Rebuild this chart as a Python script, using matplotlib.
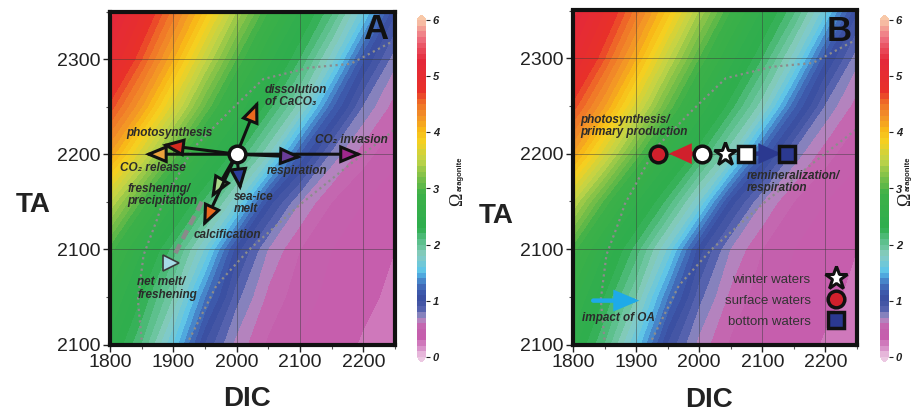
import numpy as np
import matplotlib
matplotlib.use("Agg")
import matplotlib.pyplot as plt
from matplotlib.colors import LinearSegmentedColormap
from matplotlib.lines import Line2D
from matplotlib.ticker import MultipleLocator

plt.rcParams['font.family'] = ['Liberation Sans', 'DejaVu Sans']

# ---------------- data ----------------
dic_grid = [1800, 1850, 1900, 1950, 2000, 2050, 2100, 2150, 2200, 2250]
ta_grid = [2000, 2050, 2100, 2150, 2200, 2250, 2300, 2350]
omega_ta2000 = [2.44, 2.09, 1.58, 0.98, 0.66, 0.48, 0.39, 0.34, 0.29, 0.27]
omega_ta2050 = [2.64, 2.29, 1.89, 1.30, 0.83, 0.57, 0.44, 0.37, 0.32, 0.28]
omega_ta2100 = [2.95, 2.50, 2.15, 1.68, 1.04, 0.69, 0.50, 0.40, 0.35, 0.30]
omega_ta2150 = [3.50, 2.97, 2.51, 2.16, 1.70, 1.05, 0.70, 0.50, 0.40, 0.35]
omega_ta2200 = [4.18, 3.62, 3.06, 2.57, 2.22, 1.80, 1.18, 0.76, 0.54, 0.42]
omega_ta2250 = [4.66, 4.20, 3.64, 3.08, 2.59, 2.24, 1.83, 1.22, 0.78, 0.55]
omega_ta2300 = [5.05, 4.60, 4.10, 3.52, 2.99, 2.54, 2.19, 1.74, 1.11, 0.73]
omega_ta2350 = [5.35, 4.90, 4.45, 3.96, 3.39, 2.89, 2.47, 2.12, 1.63, 1.01]

x_ticks = [1800, 1900, 2000, 2100, 2200]
x_tick_labels = ['1800', '1900', '2000', '2100', '2200']
y_ticks = [2000, 2100, 2200, 2300]
y_tick_labels = ['2100', '2100', '2200', '2300']
cbar_ticks = [0, 1, 2, 3, 4, 5, 6]

upper_iso_dic = [1850, 1844, 1853, 1874, 1882, 1931, 1990, 2042, 2115, 2180, 2250]
upper_iso_ta = [2005, 2047, 2094, 2131, 2147, 2206, 2246, 2279, 2291, 2295, 2320]
lower_iso_dic = [1925, 1968, 2020, 2100, 2180, 2250]
lower_iso_ta = [2005, 2062, 2100, 2147, 2190, 2226]

# panel A: process vectors from the initial state
a_origin_dic = 2000
a_origin_ta = 2200
a_vec_names = ['CO2 invasion', 'respiration', 'CO2 release', 'photosynthesis',
               'dissolution', 'sea-ice melt', 'freshening', 'calcification']
a_vec_dic = [2198, 2103, 1855, 1882, 2034, 2006, 1960, 1947]
a_vec_ta = [2200, 2197, 2200, 2210, 2256, 2162, 2154, 2124]
a_vec_colors = ['#a0288c', '#6a3d9a', '#eba23c', '#d42a20',
                '#ea6a1e', '#2b3f9b', '#a8d888', '#ea6a1e']
net_melt_dic = [1945, 1901]
net_melt_ta = [2150, 2093]
net_melt_marker_dic = 1897
net_melt_marker_ta = 2086

# panel B: water-mass states
b_state_dic = [1935, 2004, 2041, 2074, 2139]
b_state_ta = [2200, 2200, 2200, 2200, 2200]
b_red_arrow_dic = [1998, 1952]
b_blue_arrow_dic = [2080, 2130]
oa_arrow_dic = [1832, 1905]
oa_arrow_ta = [2046, 2046]

# ---------------- colormap ----------------
stops = [(0.0, '#ecc8e2'), (0.15, '#d890c8'), (0.35, '#c458aa'), (0.55, '#c468b0'),
         (0.7, '#a898c8'), (0.82, '#5a66b0'), (1.0, '#3a4ea0'), (1.2, '#3e5cae'),
         (1.38, '#4a90d0'), (1.5, '#58c4ee'), (1.8, '#88ccc0'), (2.05, '#5cc08c'),
         (2.3, '#2eae4e'), (2.9, '#3cb048'), (3.2, '#7cc048'), (3.5, '#c0d448'),
         (3.85, '#f5d020'), (4.05, '#f8b818'), (4.3, '#f29028'), (4.55, '#ee6a28'),
         (4.75, '#e8302a'), (5.3, '#e4283a'), (5.7, '#ee7080'), (6.0, '#f8c8a8')]
cmap = LinearSegmentedColormap.from_list('omega', [(v / 6.0, c) for v, c in stops])
cmap.set_under('#ecc8e2')
cmap.set_over('#f8c8a8')

omega = np.array([omega_ta2000, omega_ta2050, omega_ta2100, omega_ta2150,
                  omega_ta2200, omega_ta2250, omega_ta2300, omega_ta2350])
levels = np.arange(0, 6.01, 0.1)

fig = plt.figure(figsize=(9.16, 4.19), dpi=100)
ax_a = fig.add_axes([110 / 916, 74.5 / 419, 285 / 916, 333 / 419])
ax_b = fig.add_axes([573 / 916, 74.5 / 419, 284 / 916, 334 / 419])
cax_a = fig.add_axes([417 / 916, 57 / 419, 9 / 916, 347 / 419])
cax_b = fig.add_axes([880 / 916, 57 / 419, 9 / 916, 347 / 419])

txt_col = '#2b2b2b'


def arrow(ax, x0, y0, x1, y1, fc, ec, lw, hl, hw, z):
    ax.annotate('', xy=(x1, y1), xytext=(x0, y0),
                arrowprops=dict(arrowstyle=f'-|>,head_length={hl},head_width={hw}',
                                fc=fc, ec=ec, lw=lw, shrinkA=0, shrinkB=0,
                                mutation_scale=10, joinstyle='miter'),
                zorder=z)


for ax, cax, ta_y in ((ax_a, cax_a, 0.42), (ax_b, cax_b, 0.386)):
    cf = ax.contourf(dic_grid, ta_grid, omega, levels=levels, cmap=cmap,
                     vmin=0, vmax=6, extend='both', zorder=0)
    ax.plot(upper_iso_dic, upper_iso_ta, color='#8c8c8c', lw=1.6,
            ls=(0, (1, 1.6)), zorder=2)
    ax.plot(lower_iso_dic, lower_iso_ta, color='#8c8c8c', lw=1.6,
            ls=(0, (1, 1.6)), zorder=2)
    ax.set_xlim(1800, 2250)
    ax.set_ylim(2000, 2350)
    ax.set_xticks(x_ticks)
    ax.set_xticklabels(x_tick_labels)
    ax.set_yticks(y_ticks)
    ax.set_yticklabels(y_tick_labels)
    ax.xaxis.set_minor_locator(MultipleLocator(50))
    ax.yaxis.set_minor_locator(MultipleLocator(50))
    ax.tick_params(which='major', direction='out', length=5, width=1,
                   labelsize=14, pad=2, colors='#222222')
    ax.tick_params(which='minor', direction='out', length=3, width=0.8,
                   colors='#555555')
    ax.grid(True, which='major', color='#3a3a3a', lw=0.6, alpha=0.55)
    for sp in ax.spines.values():
        sp.set_linewidth(3)
        sp.set_color('#111111')
    ax.text(-0.27, ta_y, 'TA', transform=ax.transAxes, fontsize=20,
            fontweight='bold', ha='center', va='center', color='#222222')
    ax.text(0.48, -0.165, 'DIC', transform=ax.transAxes, fontsize=20,
            fontweight='bold', ha='center', va='center', color='#222222')

    cb = fig.colorbar(cf, cax=cax, extend='both', extendfrac=0.015,
                      ticks=cbar_ticks)
    cb.outline.set_visible(False)
    cb.ax.tick_params(length=3, width=0.8, pad=2, labelsize=8, colors='#222222')
    for t in cb.ax.get_yticklabels():
        t.set_fontweight('bold')
        t.set_fontstyle('italic')

# colorbar labels
for xpx in (458, 906):
    fig.text(xpx / 916, 1 - 206 / 419, 'Ω', rotation=90, fontsize=13,
             family=['Liberation Serif', 'DejaVu Serif'], ha='center', va='bottom',
             color='#222222')
    fig.text((xpx + 2) / 916, 1 - 191 / 419, 'aragonite', rotation=90, fontsize=5.5,
             fontweight='bold', ha='center', va='bottom', color='#222222')

# panel letters
ax_a.text(0.934, 0.945, 'A', transform=ax_a.transAxes, fontsize=25,
          fontweight='bold', ha='center', va='center', color='#111111', zorder=10)
ax_b.text(0.937, 0.937, 'B', transform=ax_b.transAxes, fontsize=25,
          fontweight='bold', ha='center', va='center', color='#111111', zorder=10)

# ---------------- panel A ----------------
ax_a.plot(net_melt_dic, net_melt_ta, color='#8a8a8a', lw=3.2,
          dashes=(2.2, 1.4), zorder=3)
ax_a.plot(net_melt_marker_dic, net_melt_marker_ta, marker='>', ms=11,
          mfc='#a6dbe6', mec='#3a3a3a', mew=1.2, zorder=4, ls='none')
for x1, y1, c in zip(a_vec_dic, a_vec_ta, a_vec_colors):
    arrow(ax_a, a_origin_dic, a_origin_ta, x1, y1, c, '#111111', 2.2, 1.25, 0.52, 5)
ax_a.plot(a_origin_dic, a_origin_ta, marker='o', ms=12, mfc='white',
          mec='#111111', mew=2.5, zorder=8, ls='none')

tk = dict(fontsize=8.5, fontweight='bold', fontstyle='italic', color=txt_col,
          zorder=9, linespacing=1.05)
ax_a.text(1893, 2222, 'photosynthesis', ha='center', va='center', **tk)
ax_a.text(1867, 2186, 'CO₂ release', ha='center', va='center', **tk)
ax_a.text(2045, 2261, 'dissolution\nof CaCO₃', ha='left', va='center', **tk)
ax_a.text(2181, 2215, 'CO₂ invasion', ha='center', va='center', **tk)
ax_a.text(2095, 2182, 'respiration', ha='center', va='center', **tk)
ax_a.text(1996, 2149, 'sea-ice\nmelt', ha='left', va='center', **tk)
ax_a.text(1828, 2157, 'freshening/\nprecipitation', ha='left', va='center', **tk)
ax_a.text(1986, 2115, 'calcification', ha='center', va='center', **tk)
ax_a.text(1843, 2059, 'net melt/\nfreshening', ha='left', va='center', **tk)

# ---------------- panel B ----------------
arrow(ax_b, b_red_arrow_dic[0], b_state_ta[0], b_red_arrow_dic[1], b_state_ta[0],
      '#d0202c', '#d0202c', 3.2, 1.1, 0.5, 5)
arrow(ax_b, b_blue_arrow_dic[0], b_state_ta[0], b_blue_arrow_dic[1], b_state_ta[0],
      '#2b3990', '#2b3990', 3.2, 1.1, 0.5, 5)
arrow(ax_b, oa_arrow_dic[0], oa_arrow_ta[0], oa_arrow_dic[1], oa_arrow_ta[1],
      '#1eaae8', '#1eaae8', 3.2, 1.3, 0.55, 5)

ax_b.plot(b_state_dic[0], b_state_ta[0], marker='o', ms=12, mfc='#d0202c',
          mec='#111111', mew=2.5, zorder=8, ls='none')
ax_b.plot(b_state_dic[1], b_state_ta[1], marker='o', ms=12, mfc='white',
          mec='#111111', mew=2.5, zorder=8, ls='none')
ax_b.plot(b_state_dic[2], b_state_ta[2], marker='*', ms=17, mfc='white',
          mec='#111111', mew=2.2, zorder=8, ls='none')
ax_b.plot(b_state_dic[3], b_state_ta[3], marker='s', ms=11, mfc='white',
          mec='#111111', mew=2.5, zorder=8, ls='none')
ax_b.plot(b_state_dic[4], b_state_ta[4], marker='s', ms=11, mfc='#2b3990',
          mec='#111111', mew=2.5, zorder=8, ls='none')

ax_b.text(1811, 2229, 'photosynthesis/\nprimary production', ha='left',
          va='center', **tk)
ax_b.text(2075, 2170, 'remineralization/\nrespiration', ha='left',
          va='center', **tk)
ax_b.text(1814, 2028, 'impact of OA', ha='left', va='center', **tk)

handles = [
    Line2D([], [], marker='*', ms=17, mfc='white', mec='#111111', mew=2.2, ls='none'),
    Line2D([], [], marker='o', ms=12, mfc='#d0202c', mec='#111111', mew=2.5, ls='none'),
    Line2D([], [], marker='s', ms=11, mfc='#2b3990', mec='#111111', mew=2.5, ls='none'),
]
leg = ax_b.legend(handles, ['winter waters', 'surface waters', 'bottom waters'],
                  loc='lower right', bbox_to_anchor=(0.99, 0.035), frameon=False,
                  markerfirst=False, fontsize=9.5, labelspacing=0.65,
                  handletextpad=0.9, borderaxespad=0, labelcolor='#333333')
leg.set_zorder(10)

fig.savefig('out.png', dpi=100)
